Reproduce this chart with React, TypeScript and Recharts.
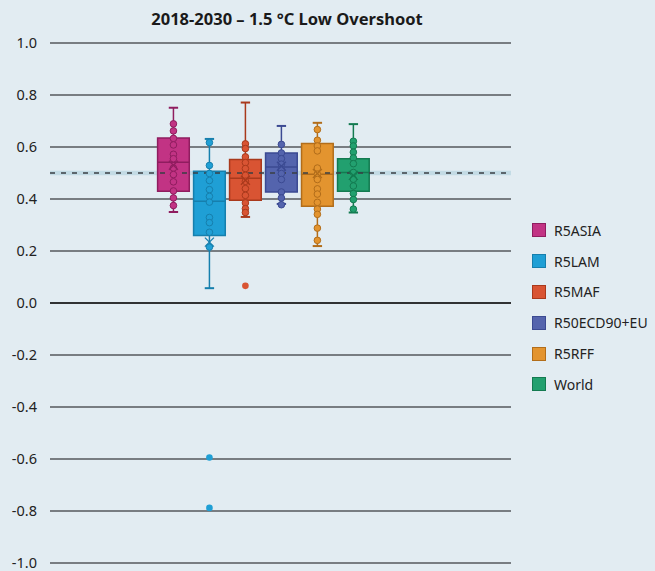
import { ComposedChart, Scatter, XAxis, YAxis, CartesianGrid, ReferenceLine, ReferenceArea } from "recharts";

const regions = ["R5ASIA", "R5LAM", "R5MAF", "R50ECD90+EU", "R5RFF", "World"];
const fills = ["#c23384", "#1f9fd5", "#d95433", "#5464ad", "#e3942f", "#22a06f"];
const strokes = ["#8f1d5f", "#167fad", "#a9391c", "#3b4a92", "#b26d1a", "#137a50"];

const whiskerLow = [0.35, 0.057, 0.331, 0.381, 0.219, 0.348];
const q1 = [0.43, 0.26, 0.395, 0.427, 0.372, 0.43];
const medians = [0.541, 0.391, 0.48, 0.523, 0.495, 0.502];
const q3 = [0.635, 0.507, 0.552, 0.577, 0.613, 0.555];
const whiskerHigh = [0.751, 0.631, 0.771, 0.681, 0.693, 0.688];
const means = [0.53, 0.234, 0.472, 0.526, 0.498, 0.491];

const points = [
  [0.689, 0.662, 0.633, 0.608, 0.572, 0.555, 0.519, 0.494, 0.466, 0.431, 0.404, 0.375],
  [0.617, 0.529, 0.498, 0.471, 0.436, 0.41, 0.388, 0.329, 0.309, 0.272, 0.215],
  [0.612, 0.594, 0.562, 0.54, 0.517, 0.491, 0.468, 0.44, 0.414, 0.385, 0.363, 0.348],
  [0.61, 0.577, 0.555, 0.534, 0.514, 0.498, 0.475, 0.427, 0.404, 0.378],
  [0.667, 0.626, 0.604, 0.585, 0.519, 0.495, 0.475, 0.439, 0.419, 0.387, 0.361, 0.341, 0.288, 0.241],
  [0.622, 0.604, 0.58, 0.558, 0.536, 0.502, 0.476, 0.45, 0.421, 0.398, 0.361],
];
const outliers = [[], [-0.594, -0.788], [0.066], [], [], []];

const yTicks = [-1, -0.8, -0.6, -0.4, -0.2, 0, 0.2, 0.4, 0.6, 0.8, 1];
const target = 0.5;

const BOX_HALF = 0.44;
const CAP_HALF = 0.13;
const font = "'Noto Sans', 'Open Sans', sans-serif";

const MeanMark = (color: string) => (p: any) => (
  <g stroke={color} strokeWidth={1.3}>
    <line x1={p.cx - 4.5} y1={p.cy - 4.5} x2={p.cx + 4.5} y2={p.cy + 4.5} />
    <line x1={p.cx - 4.5} y1={p.cy + 4.5} x2={p.cx + 4.5} y2={p.cy - 4.5} />
  </g>
);

const Dot = (fill: string, stroke: string, r: number) => (p: any) => (
  <circle cx={p.cx} cy={p.cy} r={r} fill={fill} stroke={stroke} strokeWidth={1} />
);

export default function App() {
  return (
    <div style={{ position: "absolute", left: 0, top: 0, width: 655, height: 571, background: "#e2ecf2", fontFamily: font, overflow: "hidden" }}>
      <div style={{ position: "absolute", left: 0, top: 7, width: 574, textAlign: "center", fontWeight: 700, fontSize: 16.5, color: "#1a1a1a" }}>
        2018-2030 – 1.5 °C Low Overshoot
      </div>
      <ComposedChart width={655} height={571} margin={{ top: 43, right: 144, bottom: 8, left: 8 }}>
        <CartesianGrid vertical={false} stroke="#55595d" strokeWidth={1.3} />
        <XAxis dataKey="x" type="number" domain={[-2.43, 10.38]} hide allowDataOverflow />
        <YAxis
          type="number"
          domain={[-1, 1]}
          ticks={yTicks}
          interval={0}
          width={42}
          axisLine={false}
          tickLine={false}
          tickSize={0}
          tickMargin={13}
          tick={{ fontSize: 14.5, fill: "#222", fontFamily: font }}
          tickFormatter={(v) => Number(v).toFixed(1)}
        />
        <ReferenceLine y={0} stroke="#1a1a1a" strokeWidth={1.5} />
        <ReferenceArea y1={target - 0.009} y2={target + 0.009} fill="#c3dbe5" fillOpacity={1} stroke="none" />
        {regions.map((r, i) => {
          const c = i + 1;
          return [
            <ReferenceLine key={`wl-${r}`} segment={[{ x: c, y: whiskerLow[i] }, { x: c, y: q1[i] }]} stroke={strokes[i]} strokeWidth={1.5} />,
            <ReferenceLine key={`wh-${r}`} segment={[{ x: c, y: q3[i] }, { x: c, y: whiskerHigh[i] }]} stroke={strokes[i]} strokeWidth={1.5} />,
            <ReferenceLine key={`cl-${r}`} segment={[{ x: c - CAP_HALF, y: whiskerLow[i] }, { x: c + CAP_HALF, y: whiskerLow[i] }]} stroke={strokes[i]} strokeWidth={2} />,
            <ReferenceLine key={`ch-${r}`} segment={[{ x: c - CAP_HALF, y: whiskerHigh[i] }, { x: c + CAP_HALF, y: whiskerHigh[i] }]} stroke={strokes[i]} strokeWidth={2} />,
            <ReferenceArea key={`box-${r}`} x1={c - BOX_HALF} x2={c + BOX_HALF} y1={q1[i]} y2={q3[i]} fill={fills[i]} fillOpacity={1} stroke={strokes[i]} strokeWidth={1.5} />,
            <ReferenceLine key={`md-${r}`} segment={[{ x: c - BOX_HALF, y: medians[i] }, { x: c + BOX_HALF, y: medians[i] }]} stroke={strokes[i]} strokeWidth={1.5} />,
          ];
        })}
        <ReferenceLine y={target} stroke="#3a3f44" strokeWidth={1.6} strokeDasharray="5 6" />
        {regions.map((r, i) => (
          <Scatter
            key={`pts-${r}`}
            data={points[i].map((y) => ({ x: i + 1, y }))}
            dataKey="y"
            shape={Dot(fills[i], strokes[i], 3.3)}
            isAnimationActive={false}
          />
        ))}
        {regions.map((r, i) => (
          <Scatter
            key={`out-${r}`}
            data={outliers[i].map((y) => ({ x: i + 1, y }))}
            dataKey="y"
            shape={Dot(fills[i], "none", 3.3)}
            isAnimationActive={false}
          />
        ))}
        {regions.map((r, i) => (
          <Scatter
            key={`mean-${r}`}
            data={[{ x: i + 1, y: means[i] }]}
            dataKey="y"
            shape={MeanMark(strokes[i])}
            isAnimationActive={false}
          />
        ))}
      </ComposedChart>
      <div style={{ position: "absolute", left: 532, top: 215 }}>
        {regions.map((r, i) => (
          <div key={r} style={{ display: "flex", alignItems: "center", height: 30.8 }}>
            <span style={{ display: "inline-block", width: 12, height: 12, background: fills[i], border: `1px solid ${strokes[i]}`, marginRight: 8 }} />
            <span style={{ fontSize: 14, color: "#222" }}>{r}</span>
          </div>
        ))}
      </div>
    </div>
  );
}
